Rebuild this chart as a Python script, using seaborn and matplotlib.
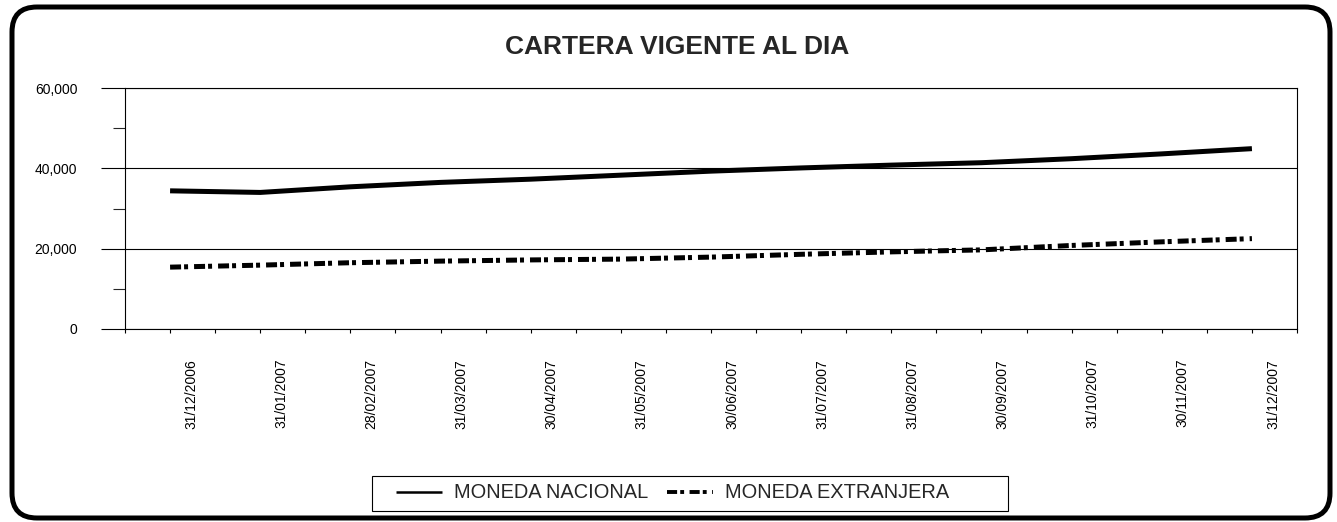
import numpy as np
import pandas as pd
import seaborn as sns
import matplotlib.pyplot as plt
from matplotlib.lines import Line2D
from matplotlib.patches import FancyBboxPatch, Rectangle
from matplotlib.ticker import MultipleLocator, FuncFormatter
from matplotlib.transforms import ScaledTranslation

# -----------------------------
# Data
# -----------------------------
fechas = ["31/12/2006", "31/01/2007", "28/02/2007", "31/03/2007", "30/04/2007",
          "31/05/2007", "30/06/2007", "31/07/2007", "31/08/2007", "30/09/2007",
          "31/10/2007", "30/11/2007", "31/12/2007"]
moneda_nacional = [34400, 34000, 35400, 36500, 37300, 38300, 39300,
                   40100, 40800, 41400, 42400, 43600, 44900]
moneda_extranjera = [15400, 15900, 16500, 16900, 17200, 17400, 17900,
                     18600, 19200, 19700, 20800, 21700, 22500]
series_names = ["MONEDA NACIONAL", "MONEDA EXTRANJERA"]

df = pd.DataFrame({"pos": np.arange(len(fechas)),
                   series_names[0]: moneda_nacional,
                   series_names[1]: moneda_extranjera})

sns.set_style("white")
plt.rcParams["font.family"] = ["Liberation Sans", "DejaVu Sans"]

W, H = 1337, 522
fig = plt.figure(figsize=(W / 100, H / 100), dpi=100)

# plot area in pixels: left 125, right 1297, top 88, bottom 329
ax = fig.add_axes([125 / W, 1 - 329 / H, (1297 - 125) / W, (329 - 88) / H])

lw = 3.6
dash_dot = (0, (2.2, 0.6, 0.8, 1.2))
sns.lineplot(data=df, x="pos", y=series_names[0], ax=ax, color="black",
             lw=lw, solid_capstyle="butt")
sns.lineplot(data=df, x="pos", y=series_names[1], ax=ax, color="black",
             lw=lw, linestyle=dash_dot, dash_capstyle="butt")

ax.set_xlim(-0.5, len(fechas) - 0.5)
ax.set_ylim(0, 60000)
ax.set_xlabel("")
ax.set_ylabel("")

# y axis
ax.yaxis.set_major_locator(MultipleLocator(20000))
ax.yaxis.set_minor_locator(MultipleLocator(10000))
ax.yaxis.set_major_formatter(FuncFormatter(lambda v, p: f"{v:,.0f}"))
ax.tick_params(axis="y", which="major", direction="out", length=17.3, width=0.8,
               pad=17, labelsize=10, colors="black", left=True)
ax.tick_params(axis="y", which="minor", direction="out", length=8.6, width=0.8,
               left=True)
ax.grid(axis="y", which="major", color="black", lw=0.8)
ax.grid(axis="x", visible=False)

# x axis: ticks at category centers and boundaries
ax.set_xticks(df["pos"])
ax.set_xticklabels(fechas, rotation=90)
ax.set_xticks(np.arange(-0.5, len(fechas), 1.0), minor=True)
ax.tick_params(axis="x", which="both", direction="out", length=3, width=0.8,
               bottom=True, colors="black")
ax.tick_params(axis="x", which="major", pad=18.5, labelsize=10)
shift = ScaledTranslation(0.21, 0, fig.dpi_scale_trans)
for lbl in ax.get_xticklabels():
    lbl.set_transform(lbl.get_transform() + shift)

for sp in ax.spines.values():
    sp.set_visible(True)
    sp.set_color("black")
    sp.set_linewidth(0.8)

# title
fig.text(677 / W, 1 - 47 / H, "CARTERA VIGENTE AL DIA", ha="center", va="center",
         fontsize=19, fontweight="bold")

# legend at the bottom, framed by a plain box
handles = [Line2D([], [], color="black", lw=1.8, solid_capstyle="butt"),
           Line2D([], [], color="black", lw=2.8, linestyle=(0, (2.6, 0.8, 1.0, 1.4)),
                  dash_capstyle="butt")]
fig.legend(handles, series_names, loc="center left", ncol=2, frameon=False,
           bbox_to_anchor=(396 / W, 1 - 493 / H), handlelength=2.3,
           handletextpad=0.6, columnspacing=0.95, borderaxespad=0, borderpad=0,
           prop={"family": "Liberation Sans", "size": 14.4})
fig.patches.append(Rectangle((372 / 100, (H - 511) / 100), 636 / 100, 35 / 100,
                             transform=fig.dpi_scale_trans, fill=False,
                             edgecolor="black", lw=0.8))

# rounded outer border
fig.patches.append(FancyBboxPatch((12 / 100, (H - 518) / 100), 1318 / 100, 511 / 100,
                                  boxstyle="round,pad=0,rounding_size=0.25",
                                  transform=fig.dpi_scale_trans, fill=False,
                                  edgecolor="black", lw=3.6))

fig.savefig("out.png", dpi=100)
